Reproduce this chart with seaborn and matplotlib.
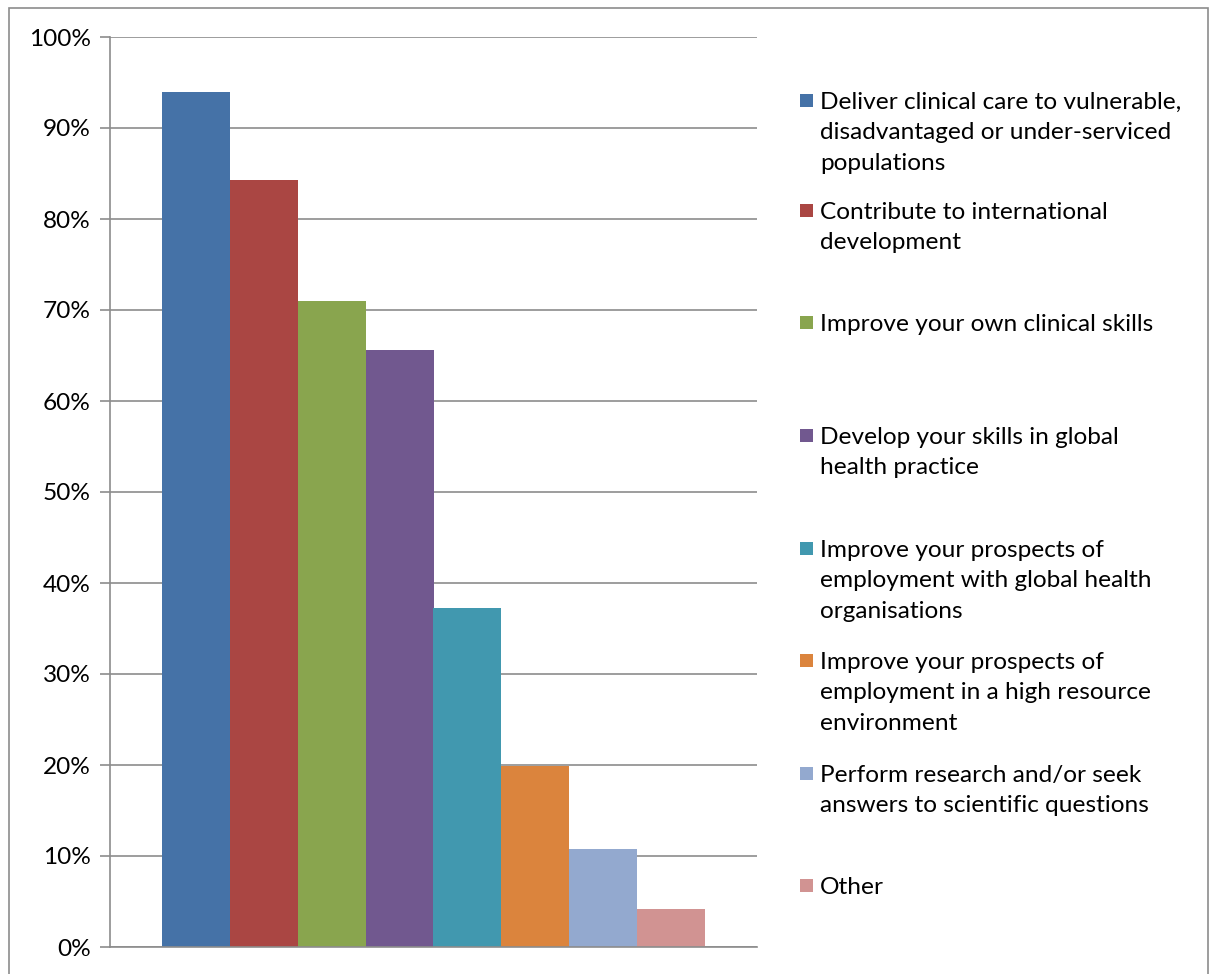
import matplotlib
matplotlib.use("Agg")
import matplotlib.pyplot as plt
from matplotlib.patches import Rectangle
import seaborn as sns
import pandas as pd

categories = [
    "Deliver clinical care to vulnerable,\ndisadvantaged or under-serviced\npopulations",
    "Contribute to international\ndevelopment",
    "Improve your own clinical skills",
    "Develop your skills in global\nhealth practice",
    "Improve your prospects of\nemployment with global health\norganisations",
    "Improve your prospects of\nemployment in a high resource\nenvironment",
    "Perform research and/or seek\nanswers to scientific questions",
    "Other",
]
values = [94.0, 84.3, 71.0, 65.6, 37.3, 19.9, 10.8, 4.2]
colors = ["#4572A7", "#AA4643", "#89A54E", "#71588F",
          "#4198AF", "#DB843D", "#93A9CF", "#D19392"]
y_ticks = [0, 10, 20, 30, 40, 50, 60, 70, 80, 90, 100]
y_tick_labels = [f"{t}%" for t in y_ticks]

sns.set_theme(style="white")
plt.rcParams["font.family"] = ["Lato", "DejaVu Sans"]

FS = 17.6
W, H = 1213, 974
fig = plt.figure(figsize=(W / 100, H / 100), dpi=100)
ax = fig.add_axes([110 / W, 1 - 947 / H, (757 - 110) / W, (947 - 37) / H])

df = pd.DataFrame({"group": [""] * len(values), "answer": categories, "pct": values})
sns.barplot(data=df, x="group", y="pct", hue="answer", hue_order=categories,
            palette=colors, width=543 / 647, dodge=True, saturation=1,
            legend=False, ax=ax, edgecolor="none", linewidth=0)

ax.set_xlim(-0.5, 0.5)
ax.set_ylim(0, 100)
ax.set_yticks(y_ticks)
ax.set_yticklabels(y_tick_labels, fontsize=FS, color="#000000")
ax.set_xticks([])
ax.set_xlabel("")
ax.set_ylabel("")
ax.yaxis.grid(True, color="#8c8c8c", linewidth=1.2)
ax.set_axisbelow(True)
ax.tick_params(axis="y", which="major", left=True, length=7, width=1.2,
               color="#8c8c8c", pad=7)
for side in ["top", "right"]:
    ax.spines[side].set_visible(False)
for side in ["left", "bottom"]:
    ax.spines[side].set_visible(True)
    ax.spines[side].set_color("#8c8c8c")
    ax.spines[side].set_linewidth(1.2)

# Legend: evenly spaced entries, text wraps below its square
legend_y = [101, 211, 323, 436, 549, 661, 774, 886]
for label, color, yc in zip(categories, colors, legend_y):
    fig.patches.append(Rectangle((800 / W, 1 - (yc + 6) / H), 13 / W, 13 / H,
                                 transform=fig.transFigure, facecolor=color,
                                 edgecolor="none"))
    fig.text(820 / W, 1 - (yc - 9) / H, label, fontsize=FS, color="#000000",
             va="top", ha="left", linespacing=1.55)

# Chart frame
fig.patches.append(Rectangle((9 / W, -0.05), (1208 - 9) / W, 1 - 8 / H + 0.05,
                             transform=fig.transFigure, facecolor="none",
                             edgecolor="#8c8c8c", linewidth=1.2))

fig.savefig("out.png", dpi=100, facecolor="white")
